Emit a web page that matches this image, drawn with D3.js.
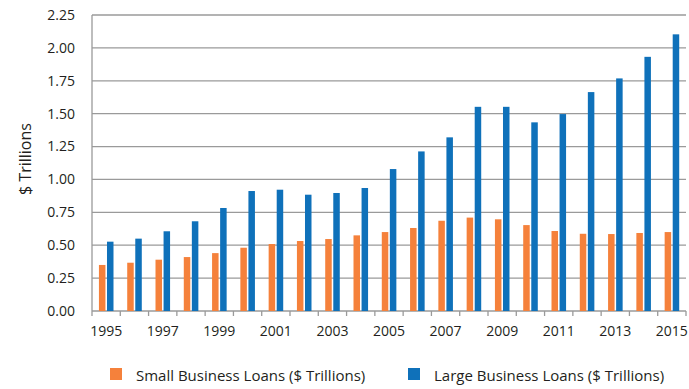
<!DOCTYPE html>
<html>
<head>
<meta charset="utf-8">
<script src="https://cdn.jsdelivr.net/npm/d3@7"></script>
<style>
  body { margin: 0; background: #fff; }
  svg { display: block; font-family: "Open Sans", Lato, sans-serif; }
</style>
</head>
<body>
<div class="center"></div>
<script>
// data
const years = d3.range(1995, 2016).map(String);
const smallLoans = [0.35, 0.367, 0.39, 0.41, 0.44, 0.481, 0.509, 0.532, 0.547, 0.575, 0.60,
                    0.631, 0.686, 0.71, 0.697, 0.653, 0.608, 0.587, 0.585, 0.593, 0.60];
const largeLoans = [0.527, 0.55, 0.606, 0.682, 0.783, 0.912, 0.922, 0.884, 0.897, 0.935, 1.079,
                    1.213, 1.32, 1.552, 1.552, 1.434, 1.497, 1.664, 1.768, 1.932, 2.103];
const yTicks = [0, 0.25, 0.5, 0.75, 1, 1.25, 1.5, 1.75, 2, 2.25];
const seriesNames = ["Small Business Loans ($ Trillions)", "Large Business Loans ($ Trillions)"];
const colors = ["#F5813B", "#0F71BA"];

const W = 689, H = 389;
const margin = {top: 15, right: 3, bottom: 78, left: 92};
const width = W - margin.left - margin.right;
const height = H - margin.top - margin.bottom;

const svg = d3.select(".center").append("svg")
  .attr("width", W)
  .attr("height", H);

const g = svg.append("g")
  .attr("transform", `translate(${margin.left},${margin.top})`);

const xScale = d3.scaleBand().domain(years).range([0, width]).padding(0);
const yScale = d3.scaleLinear().domain([0, 2.25]).range([height, 0]);

// gridlines
g.selectAll(".grid")
  .data(yTicks)
  .enter().append("line")
  .attr("x1", 0)
  .attr("x2", width)
  .attr("y1", d => yScale(d))
  .attr("y2", d => yScale(d))
  .attr("stroke", "#9a9a9a")
  .attr("stroke-width", 1.3);

// left axis line
g.append("line")
  .attr("x1", 0).attr("x2", 0)
  .attr("y1", 0).attr("y2", height)
  .attr("stroke", "#9a9a9a")
  .attr("stroke-width", 1.3);

// bars
const bw = xScale.bandwidth();
const barW = bw * 0.23;
const offsets = [bw * 0.245, bw * 0.53];
[smallLoans, largeLoans].forEach((vals, si) => {
  g.selectAll(".bar" + si)
    .data(vals)
    .enter().append("rect")
    .attr("x", (d, i) => xScale(years[i]) + offsets[si])
    .attr("y", d => yScale(d))
    .attr("width", barW)
    .attr("height", d => height - yScale(d))
    .attr("fill", colors[si]);
});

// x axis ticks at band boundaries
const boundaries = years.map(y => xScale(y)).concat([width]);
g.selectAll(".xtick")
  .data(boundaries)
  .enter().append("line")
  .attr("x1", d => d).attr("x2", d => d)
  .attr("y1", height).attr("y2", height + 5)
  .attr("stroke", "#9a9a9a")
  .attr("stroke-width", 1.3);

g.selectAll(".xlabel")
  .data(years.filter((d, i) => i % 2 === 0))
  .enter().append("text")
  .attr("x", d => xScale(d) + bw / 2)
  .attr("y", height + 25)
  .attr("text-anchor", "middle")
  .style("font-size", "14px")
  .attr("fill", "#231f20")
  .text(d => d);

// y labels
g.selectAll(".ylabel")
  .data(yTicks)
  .enter().append("text")
  .attr("x", -17)
  .attr("y", d => yScale(d))
  .attr("dy", "0.35em")
  .attr("text-anchor", "end")
  .style("font-size", "14px")
  .attr("fill", "#231f20")
  .text(d => d3.format(".2f")(d));

// y axis title
svg.append("text")
  .attr("transform", `translate(31,${margin.top + height / 2 - 4}) rotate(-90)`)
  .attr("text-anchor", "middle")
  .style("font-size", "16px")
  .attr("fill", "#231f20")
  .text("$ Trillions");

// legend
const legendX = [110, 408];
seriesNames.forEach((name, i) => {
  svg.append("rect")
    .attr("x", legendX[i])
    .attr("y", 368)
    .attr("width", 12)
    .attr("height", 12)
    .attr("fill", colors[i]);
  svg.append("text")
    .attr("x", legendX[i] + 26)
    .attr("y", 381)
    .style("font-size", "15px")
    .attr("fill", "#231f20")
    .text(name);
});
</script>
</body>
</html>
